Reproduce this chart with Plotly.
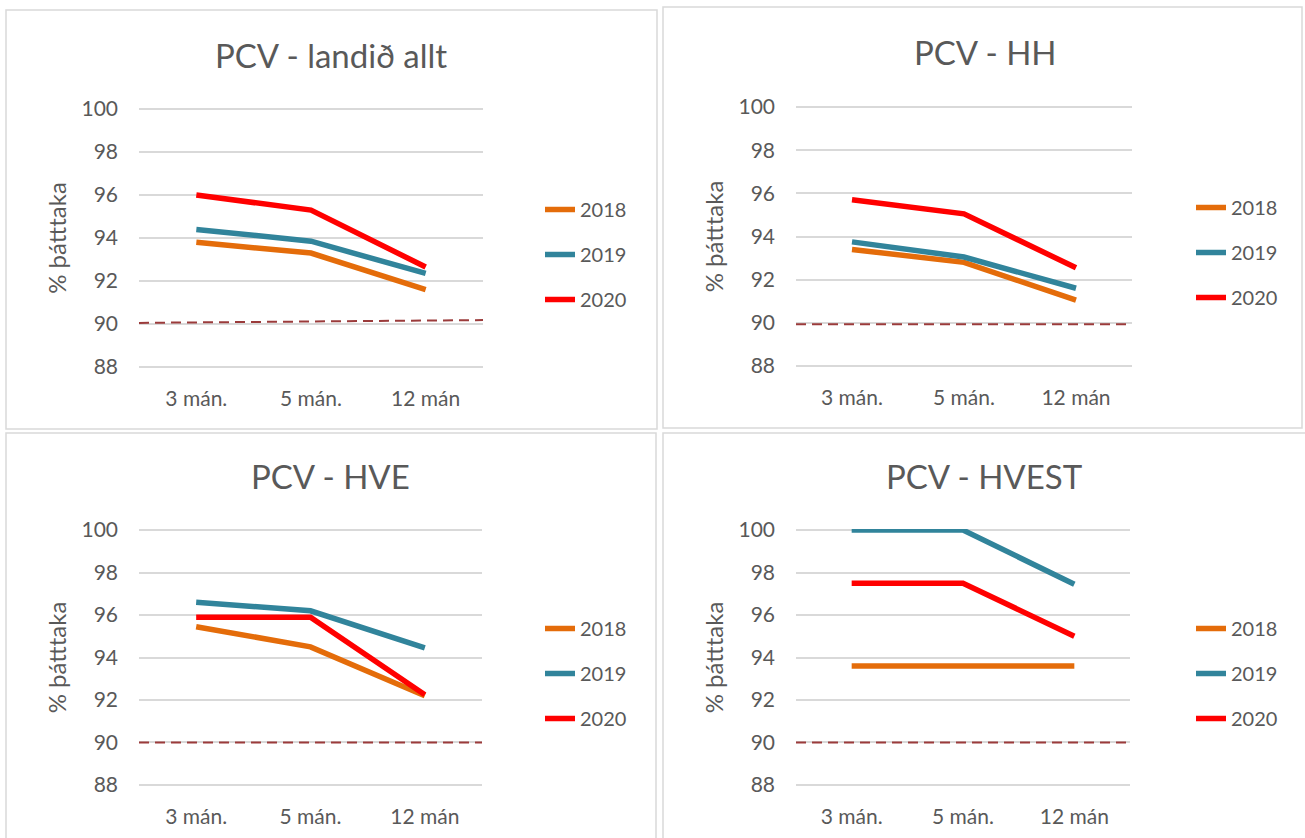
import plotly.graph_objects as go

W, H = 1305, 838

categories = ["3 mán.", "5 mán.", "12 mán"]
years = ["2018", "2019", "2020"]
year_colors = ["#E46C0A", "#31849B", "#FF0000"]

# PCV - landið allt
landid_2018 = [93.8, 93.3, 91.6]
landid_2019 = [94.4, 93.85, 92.35]
landid_2020 = [96.0, 95.3, 92.65]
landid_target = [90.05, 90.18]

# PCV - HH
hh_2018 = [93.4, 92.8, 91.05]
hh_2019 = [93.75, 93.05, 91.6]
hh_2020 = [95.7, 95.05, 92.55]
hh_target = [89.93, 89.93]

# PCV - HVE
hve_2018 = [95.45, 94.5, 92.2]
hve_2019 = [96.6, 96.2, 94.45]
hve_2020 = [95.9, 95.9, 92.25]
hve_target = [90.0, 90.0]

# PCV - HVEST
hvest_2018 = [93.6, 93.6, 93.6]
hvest_2019 = [100.0, 100.0, 97.45]
hvest_2020 = [97.5, 97.5, 95.0]
hvest_target = [90.0, 90.0]

panels = [
    ("PCV - landið allt", [landid_2018, landid_2019, landid_2020], landid_target),
    ("PCV - HH", [hh_2018, hh_2019, hh_2020], hh_target),
    ("PCV - HVE", [hve_2018, hve_2019, hve_2020], hve_target),
    ("PCV - HVEST", [hvest_2018, hvest_2019, hvest_2020], hvest_target),
]

# pixel layout of each chart box (plot area, title centre, legend, border)
boxes = [
    dict(plot=(139, 483, 108, 368), title=(331, 55), legend=(540, 190), border=(6, 10, 657, 429)),
    dict(plot=(796, 1132, 106, 367), title=(985, 52), legend=(1191, 188), border=(663, 7, 1302, 428)),
    dict(plot=(139, 482, 529, 786), title=(330, 476), legend=(540, 609), border=(6, 433, 656, 842)),
    dict(plot=(796, 1130, 529, 786), title=(984, 476), legend=(1191, 609), border=(663, 433, 1308, 842)),
]

FONT = "Lato"
TXT = "#595959"
GRID = "#D9D9D9"

fig = go.Figure()
layout = dict(
    width=W, height=H,
    margin=dict(l=0, r=0, t=0, b=0, autoexpand=False),
    paper_bgcolor="white", plot_bgcolor="white",
    font=dict(family=FONT, color=TXT, size=21),
    shapes=[], annotations=[],
)

for i, ((title, series, target), box) in enumerate(zip(panels, boxes)):
    n = "" if i == 0 else str(i + 1)
    leg = "legend" + n
    x0, x1, y0, y1 = box["plot"]

    for year, color, vals in zip(years, year_colors, series):
        fig.add_trace(go.Scatter(
            x=categories, y=vals, name=year, mode="lines",
            line=dict(color=color, width=5.5),
            xaxis="x" + n, yaxis="y" + n,
            legend=leg, legendgroup=f"{leg}-{year}",
            hoverinfo="skip",
        ))

    layout["xaxis" + n] = dict(
        domain=[x0 / W, x1 / W], anchor="y" + n, automargin=False,
        type="category", range=[-0.5, 2.5],
        showgrid=False, zeroline=False, showline=False,
        ticks="", ticklabelstandoff=16,
        tickfont=dict(size=21, color=TXT),
    )
    layout["yaxis" + n] = dict(
        domain=[1 - y1 / H, 1 - y0 / H], anchor="x" + n, automargin=False,
        range=[87.95, 100.05], tickvals=[88, 90, 92, 94, 96, 98, 100],
        showgrid=True, gridcolor=GRID, gridwidth=1.5,
        zeroline=False, showline=False, ticks="",
        ticklabelstandoff=20,
        tickfont=dict(size=21, color=TXT),
        title=dict(text="% þátttaka", font=dict(size=24, color=TXT), standoff=8),
    )

    lx, ly = box["legend"]
    layout[leg] = dict(
        x=lx / W, y=1 - ly / H, xanchor="left", yanchor="top",
        bgcolor="rgba(0,0,0,0)", font=dict(size=20, color=TXT),
        tracegroupgap=16, itemwidth=30,
    )

    # 90% target line
    layout["shapes"].append(dict(
        type="line", xref=f"x{n} domain", yref="y" + n,
        x0=0, x1=1, y0=target[0], y1=target[1],
        line=dict(color="#9B3B3B", width=2, dash="10px,6px"), layer="above",
    ))

    bx0, by0, bx1, by1 = box["border"]
    layout["shapes"].append(dict(
        type="rect", xref="paper", yref="paper",
        x0=bx0 / W, x1=bx1 / W, y0=1 - by1 / H, y1=1 - by0 / H,
        line=dict(color=GRID, width=1.5), layer="below",
    ))

    tx, ty = box["title"]
    layout["annotations"].append(dict(
        text=title, x=tx / W, y=1 - ty / H, xref="paper", yref="paper",
        showarrow=False, xanchor="center", yanchor="middle",
        font=dict(size=33, color=TXT),
    ))

fig.update_layout(**layout)

# pin the graph to the top-left corner of the page
pin = (
    "var gd=document.getElementById('{plot_id}');"
    "gd.style.position='fixed';gd.style.left='0px';gd.style.top='0px';"
    "document.body.style.margin='0';document.body.style.overflow='hidden';"
    "document.documentElement.style.overflow='hidden';"
)
fig.write_html("out.html", config={"displayModeBar": False}, post_script=pin)
